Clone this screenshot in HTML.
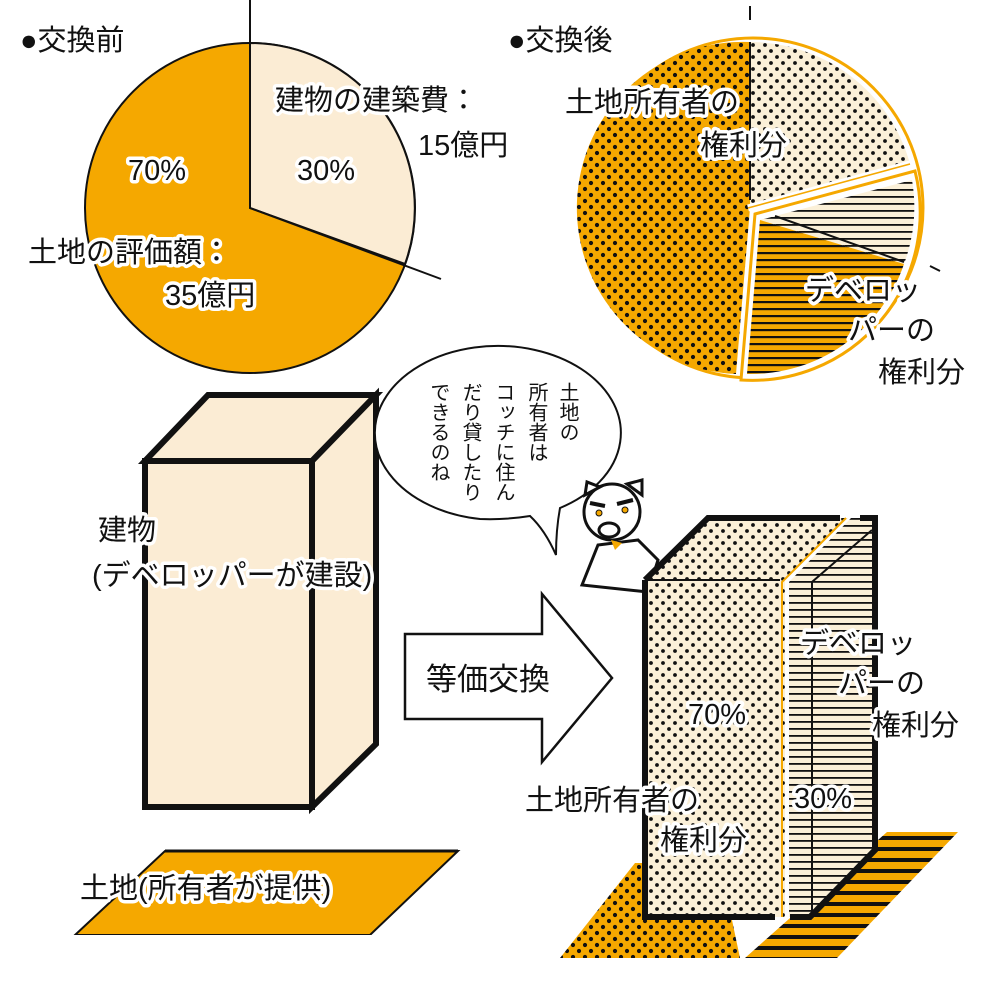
<!DOCTYPE html>
<html><head><meta charset="utf-8"><style>
html,body{margin:0;padding:0;background:#fff;}
svg{display:block;}
text{font-family:"Liberation Sans","Noto Sans CJK JP",sans-serif;fill:#111;}
.h{paint-order:stroke;stroke:#fff;stroke-width:7px;stroke-linejoin:round;}
</style></head><body>
<svg width="1001" height="1001" viewBox="0 0 1001 1001" xmlns="http://www.w3.org/2000/svg">
<defs>
<pattern id="dO" width="12" height="12" patternUnits="userSpaceOnUse">
<rect width="12" height="12" fill="#f5a800"/><circle cx="3" cy="3" r="2.1" fill="#111"/><circle cx="9" cy="9" r="2.1" fill="#111"/></pattern>
<pattern id="dC" width="12" height="12" patternUnits="userSpaceOnUse">
<rect width="12" height="12" fill="#fbf0d8"/><circle cx="3" cy="3" r="1.9" fill="#111"/><circle cx="9" cy="9" r="1.9" fill="#111"/></pattern>
<pattern id="sO" width="8" height="7" patternUnits="userSpaceOnUse">
<rect width="8" height="7" fill="#f5a800"/><rect y="0" width="8" height="2.2" fill="#111"/></pattern>
<pattern id="sC" width="8" height="7" patternUnits="userSpaceOnUse">
<rect width="8" height="7" fill="#fbf0d8"/><rect y="0" width="8" height="1.8" fill="#111"/></pattern>
<pattern id="sO2" width="8" height="11" patternUnits="userSpaceOnUse">
<rect width="8" height="11" fill="#f5a800"/><rect y="0" width="8" height="4" fill="#111"/></pattern>
</defs>

<!-- LEFT PIE -->
<line x1="250" y1="0" x2="250" y2="210" stroke="#111" stroke-width="2"/>
<circle cx="250" cy="208" r="165" fill="#f5a800" stroke="#111" stroke-width="2"/>
<path d="M250 208 L250 43 A165 165 0 0 1 405 264 Z" fill="#fbecd4" stroke="#111" stroke-width="2"/>
<line x1="250" y1="208" x2="441" y2="279" stroke="#111" stroke-width="2"/>
<text x="20" y="50" font-size="29">●交換前</text>
<text class="h" x="275" y="110" font-size="29">建物の建築費：</text>
<text x="418" y="155" font-size="29">15億円</text>
<text class="h" x="297" y="180" font-size="29">30%</text>
<text class="h" x="128" y="180" font-size="29">70%</text>
<text class="h" x="28" y="262" font-size="29">土地の評価額：</text>
<text class="h" x="165" y="305" font-size="29">35億円</text>

<!-- RIGHT PIE -->
<text x="508" y="50" font-size="29">●交換後</text>
<line x1="750" y1="6" x2="750" y2="20" stroke="#111" stroke-width="2"/>
<circle cx="753" cy="208" r="170" fill="#fff" stroke="#f5a800" stroke-width="3"/>
<path d="M750 208 L750 42 A166 166 0 0 1 910 164 Z" fill="url(#dC)"/>
<path d="M750 208 L750 42 A166 166 0 0 0 736 374 Z" fill="url(#dO)"/>
<path d="M750 42 L750 200" stroke="#111" stroke-width="2"/>
<path d="M748 208 L910 164" stroke="#fff" stroke-width="7"/>
<path d="M748 208 L910 164" stroke="#f5a800" stroke-width="1.5"/>
<path d="M755 214 L915 171 A168 168 0 0 1 741 380 Z" fill="#fff" stroke="#f5a800" stroke-width="3"/>
<path d="M760 220 L912 180 A162 162 0 0 1 904 264 Z" fill="url(#sC)"/>
<path d="M760 220 L904 264 A162 162 0 0 1 747 374 Z" fill="url(#sO)"/>
<line x1="775" y1="216" x2="904" y2="262" stroke="#111" stroke-width="2"/>
<line x1="930" y1="266" x2="940" y2="271" stroke="#111" stroke-width="2"/>
<text class="h" x="565" y="112" font-size="29">土地所有者の</text>
<text class="h" x="700" y="155" font-size="29">権利分</text>
<text class="h" x="805" y="300" font-size="29">デベロッ</text>
<text class="h" x="848" y="340" font-size="29">パーの</text>
<text class="h" x="878" y="382" font-size="29">権利分</text>

<!-- LEFT BOX -->
<path d="M145 461 L208 395 L376 395 L312 461 Z" fill="#fbecd4" stroke="#111" stroke-width="6" stroke-linejoin="miter"/>
<path d="M312 461 L376 395 L376 744 L312 807 Z" fill="#fbecd4" stroke="#111" stroke-width="6"/>
<rect x="145" y="461" width="167" height="346" fill="#fbecd4" stroke="#111" stroke-width="6"/>
<line x1="312" y1="461" x2="312" y2="807" stroke="#111" stroke-width="2"/>
<text class="h" x="98" y="540" font-size="29">建物</text>
<text class="h" x="92" y="585" font-size="29">(デベロッパーが建設)</text>

<!-- LAND -->
<path d="M165 851 L458 851 L370 935 L75 935 Z" fill="#f5a800" stroke="#111" stroke-width="2"/>
<rect x="0" y="935" width="500" height="66" fill="#fff"/>
<path d="M165 851 L458 851" stroke="#111" stroke-width="3"/>
<text class="h" x="80" y="898" font-size="29">土地(所有者が提供)</text>

<!-- ARROW -->
<path d="M405 634 L542 634 L542 594 L612 678 L542 762 L542 719 L405 719 Z" fill="#fff" stroke="#111" stroke-width="2.5" stroke-linejoin="miter"/>
<text x="426" y="690" font-size="31">等価交換</text>

<!-- SPEECH BUBBLE -->
<path d="M530 516 Q505 520 480 519 A123 87 0 1 1 560 508 Q556 530 556 555 Q545 530 530 516 Z" fill="#fff" stroke="#111" stroke-width="2"/>
<g font-size="20">
<text x="567" y="382" style="writing-mode:vertical-rl">土地の</text>
<text x="536" y="382" style="writing-mode:vertical-rl">所有者は</text>
<text x="503" y="382" style="writing-mode:vertical-rl">コッチに住ん</text>
<text x="470" y="382" style="writing-mode:vertical-rl">だり貸したり</text>
<text x="438" y="382" style="writing-mode:vertical-rl">できるのね</text>
</g>

<!-- PIG -->
<g stroke="#111" stroke-width="3" fill="#fff">
<path d="M582 585 L598 545 L638 540 L658 560 L648 592 Z"/>
<circle cx="612" cy="512" r="28"/>
<path d="M585 495 L587 482 L600 487 Z"/>
<path d="M627 484 L642 480 L642 495 Z"/>
<ellipse cx="609" cy="530" rx="10" ry="7"/>
</g>
<path d="M611 540 L622 543 L615 550 Z" fill="#f5a800"/>
<circle cx="599" cy="513" r="3" fill="#f5a800" stroke="#111"/><circle cx="625" cy="510" r="3" fill="#f5a800" stroke="#111"/>
<path d="M590 503 L605 506 M617 504 L633 500" stroke="#111" stroke-width="4"/>

<!-- RIGHT GROUND -->
<path d="M635 863 L720 863 L740 958 L560 958 Z" fill="url(#dO)"/>
<path d="M745 958 L837 958 L958 832 L887 832 Z" fill="url(#sO2)"/>

<!-- RIGHT BUILDING owner -->
<path d="M645 580 L708 518 L848 518 L785 580 L785 917 L645 917 Z" fill="url(#dC)"/>
<path d="M645 580 L708 518 L840 518" fill="none" stroke="#111" stroke-width="6"/>
<path d="M645 580 L645 917 L775 917" fill="none" stroke="#111" stroke-width="6"/>
<line x1="645" y1="580" x2="780" y2="580" stroke="#111" stroke-width="2"/>
<path d="M782 917 L782 582 L846 518" fill="none" stroke="#f5a800" stroke-width="2"/>
<path d="M789 582 L851 518 L875 518 L875 850 L808 917 L789 917 Z" fill="url(#sC)"/>
<path d="M860 518 L875 518 L875 850 L810 917 L790 917" fill="none" stroke="#111" stroke-width="6"/>
<path d="M872 530 L812 582 L812 915" fill="none" stroke="#111" stroke-width="2"/>
<text class="h" x="688" y="724" font-size="29">70%</text>
<text class="h" x="525" y="810" font-size="29">土地所有者の</text>
<text class="h" x="660" y="850" font-size="29">権利分</text>
<text class="h" x="800" y="653" font-size="29">デベロッ</text>
<text class="h" x="838" y="693" font-size="29">パーの</text>
<text class="h" x="872" y="735" font-size="29">権利分</text>
<text class="h" x="794" y="808" font-size="29">30%</text>
</svg>
</body></html>
